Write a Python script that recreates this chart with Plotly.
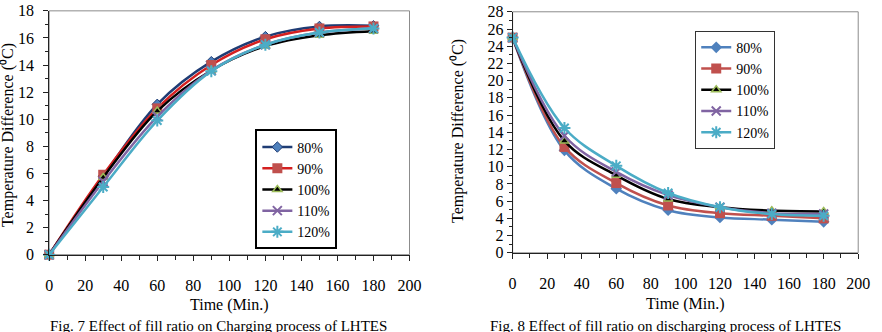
import plotly.graph_objects as go

time_min = [0, 30, 60, 90, 120, 150, 180]
series_names = ["80%", "90%", "100%", "110%", "120%"]

charging = {
    "80%":  [0, 5.8, 11.1, 14.25, 16.1, 16.85, 16.9],
    "90%":  [0, 5.9, 10.8, 14.0, 15.9, 16.7, 16.85],
    "100%": [0, 5.7, 10.6, 13.6, 15.4, 16.2, 16.5],
    "110%": [0, 5.4, 10.2, 13.6, 15.5, 16.4, 16.7],
    "120%": [0, 5.0, 9.9, 13.55, 15.5, 16.4, 16.7],
}
discharging = {
    "80%":  [25, 11.9, 7.45, 4.95, 4.1, 3.85, 3.6],
    "90%":  [25, 12.3, 8.1, 5.5, 4.6, 4.3, 4.0],
    "100%": [25, 13.0, 9.0, 6.25, 5.3, 4.9, 4.8],
    "110%": [25, 13.6, 9.4, 6.7, 5.3, 4.6, 4.5],
    "120%": [25, 14.5, 10.1, 6.95, 5.3, 4.5, 4.3],
}

x_title = "Time (Min.)"
y_title = "Temperature Difference (⁰C)"
caption_left = "Fig. 7 Effect of fill ratio on Charging process of LHTES"
caption_right = "Fig. 8 Effect of fill ratio on discharging process of LHTES"

FONT = "Liberation Serif"
W, H = 882, 332

left_style = {
    "80%":  dict(line="#1F3C74", marker=dict(symbol="diamond", size=8, color="#4F81BD", line=dict(color="#1F3C74", width=1))),
    "90%":  dict(line="#D42020", marker=dict(symbol="square", size=10, color="#C0504D", line=dict(color="#C0504D", width=0))),
    "100%": dict(line="#000000", marker=dict(symbol="triangle-up", size=8, color="#000000", line=dict(color="#9BBB59", width=1.5))),
    "110%": dict(line="#8064A2", marker=dict(symbol="x-thin", size=9, color="#8064A2", line=dict(color="#8064A2", width=2))),
    "120%": dict(line="#4BACC6", marker=dict(symbol="asterisk", size=10, color="#4BACC6", line=dict(color="#4BACC6", width=2))),
}
right_style = {
    "80%":  dict(line="#4F81BD", marker=dict(symbol="diamond", size=9, color="#4F81BD", line=dict(color="#4F81BD", width=0))),
    "90%":  dict(line="#C0504D", marker=dict(symbol="square", size=10, color="#C0504D", line=dict(color="#C0504D", width=0))),
    "100%": dict(line="#000000", marker=dict(symbol="triangle-up", size=8, color="#000000", line=dict(color="#9BBB59", width=1.5))),
    "110%": dict(line="#8064A2", marker=dict(symbol="x-thin", size=9, color="#8064A2", line=dict(color="#8064A2", width=2))),
    "120%": dict(line="#4BACC6", marker=dict(symbol="asterisk", size=10, color="#4BACC6", line=dict(color="#4BACC6", width=2))),
}

fig = go.Figure()
for name in series_names:
    st = left_style[name]
    fig.add_trace(go.Scatter(
        x=time_min, y=charging[name], name=name, mode="lines+markers",
        line=dict(color=st["line"], width=2.5, shape="spline"),
        marker=st["marker"], xaxis="x", yaxis="y", legend="legend",
        cliponaxis=False))
for name in series_names:
    st = right_style[name]
    fig.add_trace(go.Scatter(
        x=time_min, y=discharging[name], name=name, mode="lines+markers",
        line=dict(color=st["line"], width=2.5, shape="spline"),
        marker=st["marker"], xaxis="x2", yaxis="y2", legend="legend2",
        cliponaxis=False))

def px_x(p):
    return p / W

def px_y(p):
    return (H - p) / H

AX = "#222222"
axis_common = dict(
    showgrid=False, zeroline=False, showline=True, linecolor=AX, linewidth=1,
    mirror=False, ticks="outside", ticklen=5, tickcolor=AX, tickwidth=1,
    tickfont=dict(family=FONT, size=16, color="#000000"),
    ticklabeloverflow="allow",
)

fig.update_layout(
    width=W, height=H, margin=dict(l=0, r=0, t=0, b=0),
    paper_bgcolor="white", plot_bgcolor="white",
    font=dict(family=FONT, size=16, color="#000000"),
    xaxis=dict(domain=[px_x(46), px_x(413)], anchor="y", range=[0, 200], dtick=20,
               minor=dict(ticks="outside", ticklen=4, dtick=10, tickcolor=AX),
               ticklabelstandoff=11, **axis_common),
    yaxis=dict(domain=[px_y(260), px_y(3)], anchor="x", range=[0, 18], dtick=2,
               minor=dict(ticks="outside", ticklen=3, dtick=1, tickcolor=AX),
               ticklabelstandoff=6, **axis_common),
    xaxis2=dict(domain=[px_x(518), px_x(870)], anchor="y2", range=[0, 200], dtick=20,
                minor=dict(ticks="outside", ticklen=4, dtick=10, tickcolor=AX),
                ticklabelstandoff=11, **axis_common),
    yaxis2=dict(domain=[px_y(258), px_y(4)], anchor="x2", range=[0, 28], dtick=2,
                minor=dict(ticks="outside", ticklen=3, dtick=1, tickcolor=AX),
                ticklabelstandoff=0, **axis_common),
    legend=dict(x=px_x(256), y=px_y(128), xanchor="left", yanchor="top",
                bordercolor="#000000", borderwidth=2, bgcolor="white",
                font=dict(family=FONT, size=14), tracegroupgap=0),
    legend2=dict(x=px_x(704), y=px_y(24), xanchor="left", yanchor="top",
                 bordercolor="#333333", borderwidth=1, bgcolor="white",
                 font=dict(family=FONT, size=14), tracegroupgap=0,
                 entrywidth=80),
    showlegend=True,
)

# light grey frame around each plot area (top/right edges)
for xr, yr in (("x domain", "y domain"), ("x2 domain", "y2 domain")):
    fig.add_shape(type="rect", xref=xr, yref=yr, x0=0, x1=1, y0=0, y1=1,
                  line=dict(color="#8C8C8C", width=1), layer="below")

annots = [
    dict(text=x_title, x=px_x(229.5), y=px_y(313), xanchor="center", yanchor="middle"),
    dict(text=x_title, x=px_x(694), y=px_y(312), xanchor="center", yanchor="middle"),
    dict(text=y_title, x=px_x(4), y=px_y(134), xanchor="center", yanchor="middle", textangle=-90),
    dict(text=y_title, x=px_x(463), y=px_y(130), xanchor="center", yanchor="middle", textangle=-90),
    dict(text=caption_left, x=px_x(45), y=px_y(325), xanchor="left", yanchor="top", font=dict(size=15)),
    dict(text=caption_right, x=px_x(493), y=px_y(325), xanchor="left", yanchor="top", font=dict(size=15)),
]
for a in annots:
    a.update(xref="paper", yref="paper", showarrow=False)
    if "font" not in a:
        a["font"] = dict(family=FONT, size=16, color="#000000")
    else:
        a["font"].update(family=FONT, color="#000000")
fig.update_layout(annotations=annots)

fig.write_html("out.html")
